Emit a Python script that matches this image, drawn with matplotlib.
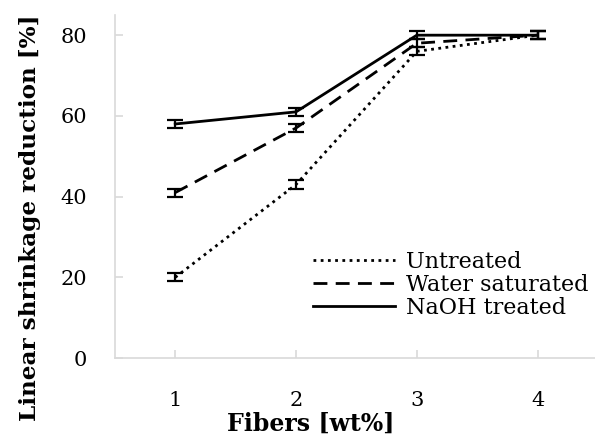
import matplotlib
matplotlib.use("Agg")
import matplotlib.pyplot as plt
from matplotlib.lines import Line2D

# fiber content (wt%)
fibers = [1, 2, 3, 4]

# linear shrinkage reduction [%] per treatment
untreated = [20, 43, 76, 80]
water_saturated = [41, 57, 78, 80]
naoh_treated = [58, 61, 80, 80]

# error bars
untreated_err = [1, 1, 1, 1]
water_err = [1, 1, 1, 1]
naoh_err = [1, 1, 1, 1]

plt.rcParams['font.family'] = ['DejaVu Serif']

fig = plt.figure(figsize=(5.95, 4.41), dpi=100)
ax = fig.add_axes([0.193, 0.188, 0.812, 0.778])

series = [
    (untreated, untreated_err, 'Untreated', (0, (1, 1.6))),
    (water_saturated, water_err, 'Water saturated', (0, (5, 3))),
    (naoh_treated, naoh_err, 'NaOH treated', '-'),
]
handles = []
for vals, err, name, ls in series:
    ax.errorbar(fibers, vals, yerr=err, color='black', linestyle=ls, linewidth=2,
                capsize=5.5, capthick=1.6, elinewidth=1.6)
    handles.append(Line2D([], [], color='black', linestyle=ls, linewidth=2, label=name))

ax.set_xlim(0.5, 4.5)
ax.set_ylim(0, 85)
ax.set_xticks(fibers)
ax.set_yticks([0, 20, 40, 60, 80])

for side in ['top', 'right']:
    ax.spines[side].set_visible(False)
for side in ['left', 'bottom']:
    ax.spines[side].set_color('#d9d9d9')
    ax.spines[side].set_linewidth(1.2)

ax.tick_params(axis='both', direction='in', length=6, color='#d9d9d9', width=1.2,
               labelsize=15)
ax.tick_params(axis='y', pad=20)
ax.tick_params(axis='x', pad=24)

ax.set_xlabel('Fibers [wt%]', fontsize=17, fontweight='bold')
ax.xaxis.label.set_va('center')
ax.xaxis.set_label_coords(0.406, -0.192)
ax.set_ylabel('Linear shrinkage reduction [%]', fontsize=16.7, fontweight='bold')
ax.yaxis.label.set_va('center')
ax.yaxis.set_label_coords(-0.1756, 0.41)

ax.legend(handles=handles, loc='upper left', bbox_to_anchor=(313 / 595, 1 - 251 / 441),
          bbox_transform=fig.transFigure, frameon=False, fontsize=16,
          handlelength=3.7, handletextpad=0.5, labelspacing=0.05,
          borderpad=0, borderaxespad=0)

fig.savefig('out.png', dpi=100)
